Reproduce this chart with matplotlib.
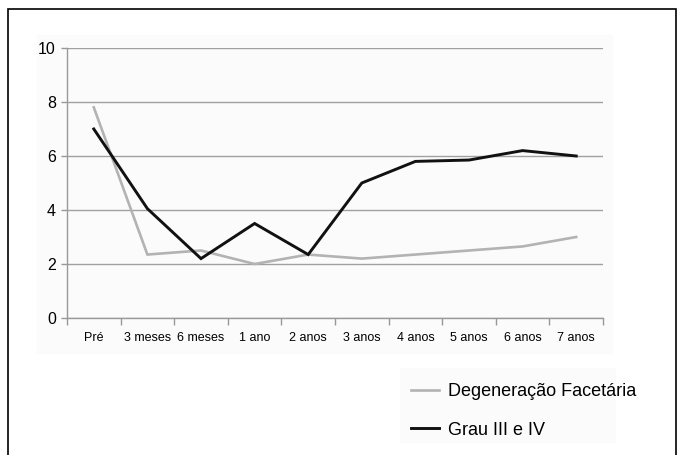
import matplotlib.pyplot as plt
from matplotlib import patches

plt.rcParams['font.family'] = ['Liberation Sans', 'DejaVu Sans']

# Follow-up periods (x-axis categories)
periods = ["Pré", "3 meses", "6 meses", "1 ano", "2 anos", "3 anos",
           "4 anos", "5 anos", "6 anos", "7 anos"]

# Series values per period
degeneracao = [7.8, 2.35, 2.5, 2.0, 2.35, 2.2, 2.35, 2.5, 2.65, 3.0]
grau_3_4 = [7.0, 4.05, 2.2, 3.5, 2.35, 5.0, 5.8, 5.85, 6.2, 6.0]

y_ticks = [0, 2, 4, 6, 8, 10]

W, H = 681, 455
fig = plt.figure(figsize=(W / 100, H / 100), dpi=100)

# faint shaded panels behind plot and legend
fig.add_artist(patches.Rectangle((37 / W, 1 - 353 / H), 575 / W, 318 / H,
                                 transform=fig.transFigure, color="#fbfbfb", zorder=0))
fig.add_artist(patches.Rectangle((400 / W, 1 - 442 / H), 215 / W, 74 / H,
                                 transform=fig.transFigure, color="#fbfbfb", zorder=0))

# outer frame
fig.add_artist(patches.Rectangle((8 / W, -0.05), 668 / W, 1.05 - 9 / H,
                                 transform=fig.transFigure, fill=False,
                                 edgecolor="black", lw=1.2, zorder=5))

ax = fig.add_axes([67 / W, 1 - 318 / H, 536 / W, 270 / H])
ax.set_facecolor("none")

x = list(range(len(periods)))
ax.plot(x, degeneracao, color="#b3b3b3", lw=1.9, label="Degeneração Facetária",
        solid_joinstyle="miter", zorder=3)
ax.plot(x, grau_3_4, color="#111111", lw=2.1, label="Grau III e IV",
        solid_joinstyle="miter", zorder=4)

ax.set_xlim(-0.5, len(periods) - 0.5)
ax.set_ylim(0, 10)
ax.set_yticks(y_ticks)
ax.set_yticklabels([str(v) for v in y_ticks], fontsize=11.5)
ax.tick_params(axis="y", length=4, color="#999999", width=1, pad=4)

# category boundaries as ticks, labels centred between them
ax.set_xticks([i - 0.5 for i in range(len(periods) + 1)])
ax.set_xticklabels([])
ax.set_xticks(x, minor=True)
ax.set_xticklabels(periods, minor=True, fontsize=9)
ax.tick_params(axis="x", which="major", length=5, color="#999999", width=1)
ax.tick_params(axis="x", which="minor", length=0, pad=10)

ax.grid(axis="y", color="#a0a0a0", lw=1)
for side in ["top", "right"]:
    ax.spines[side].set_visible(False)
for side in ["left", "bottom"]:
    ax.spines[side].set_color("#999999")
    ax.spines[side].set_linewidth(1)

fig.legend(loc="upper left", bbox_to_anchor=(411 / W, 1 - 383 / H),
           frameon=False, fontsize=13, handlelength=1.55, handletextpad=0.5,
           labelspacing=1.2, borderpad=0, borderaxespad=0)

fig.savefig("out.png", dpi=100)
